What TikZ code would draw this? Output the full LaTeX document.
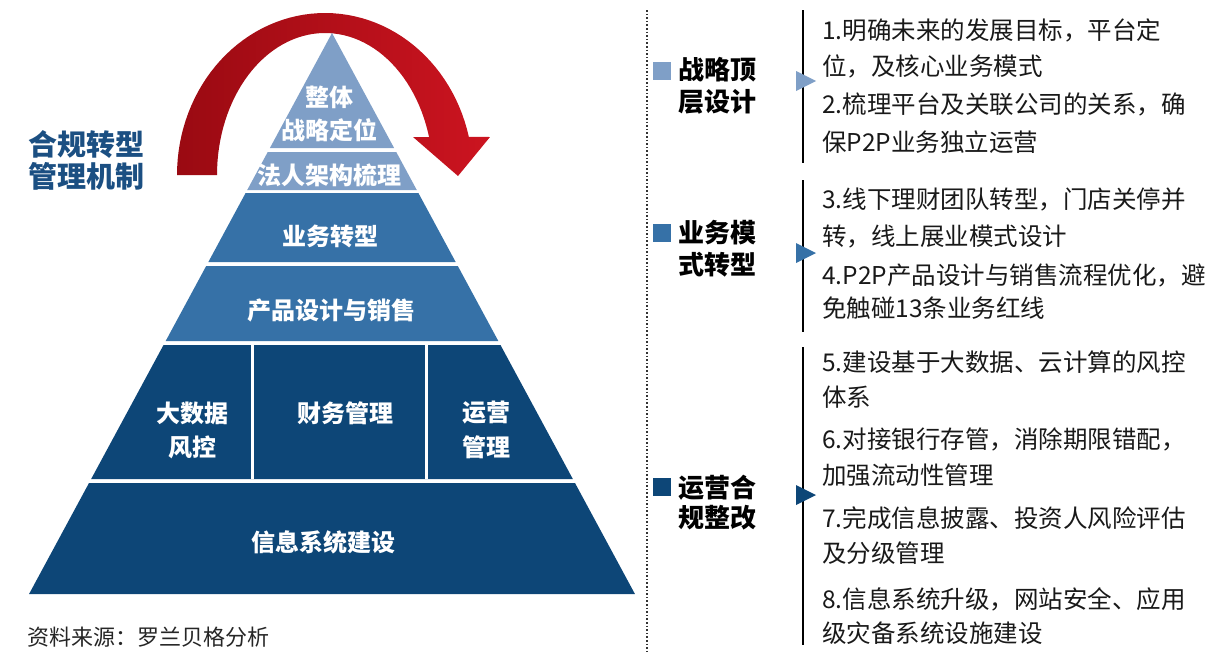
\documentclass[tikz,border=0pt]{standalone}
\usepackage{fontspec}
\setmainfont{Noto Sans CJK SC}
\definecolor{plight}{HTML}{7F9FC7}
\definecolor{pmid}{HTML}{3671A7}
\definecolor{pdark}{HTML}{0D4677}
\definecolor{titleblue}{HTML}{1B4F82}
\definecolor{redL}{HTML}{9A0A12}
\definecolor{redR}{HTML}{CC1420}
\newcommand\pband[3]{\fill[#3] ({332-0.54*(#1-33)},#1) -- ({332+0.54*(#1-33)},#1) -- ({332+0.54*(#2-33)},#2) -- ({332-0.54*(#2-33)},#2) -- cycle;}
\begin{document}
\begin{tikzpicture}[x=1pt,y=-1pt,
  ptext/.style={text=white,font=\bfseries\fontsize{24}{24}\selectfont,inner sep=0pt},
  ttext/.style={text=titleblue,font=\bfseries\fontsize{29}{29}\selectfont,inner sep=0pt},
  slabel/.style={text=black,font=\bfseries\fontsize{26}{26}\selectfont,inner sep=0pt,anchor=west},
  itext/.style={text=black!90,font=\fontsize{24.5}{24.5}\selectfont,inner sep=0pt,anchor=west},
  sq/.style={inner sep=0pt,minimum size=18pt,draw=none},
  tri/.style={draw=none}]
\useasboundingbox (0,0) rectangle (1220,662);
% red arrow
\shade[left color=redL,right color=redR]
  plot[domain=180:346.4,samples=60] ({325+148*cos(\x)},{175+162*sin(\x)})
  -- (490,137) -- (458,176) -- (413,137) -- (429,137)
  -- plot[domain=344.5:180,samples=60] ({325+108*cos(\x)},{175+142*sin(\x)}) -- cycle;
% pyramid
\fill[plight] (332,33) -- ({332+0.54*(148-33)},148) -- ({332-0.54*(148-33)},148) -- cycle;
\pband{152}{190}{plight}
\pband{193}{262}{pmid}
\pband{266}{341}{pmid}
\pband{345}{479}{pdark}
\pband{483}{594}{pdark}
\draw[white,line width=3pt] (252,345) -- (252,479);
\draw[white,line width=3pt] (426,345) -- (426,479);
% pyramid labels
\node[ptext] (p1a) at (329,97) {整体};
\node[ptext] (p1b) at (329,130) {战略定位};
\node[ptext] (p2) at (329,175) {法人架构梳理};
\node[ptext] (p3) at (330,236) {业务转型};
\node[ptext] (p4) at (331,310) {产品设计与销售};
\node[ptext] (p5a) at (192,413) {大数据};
\node[ptext] (p5b) at (192,447) {风控};
\node[ptext] (p6) at (345,413) {财务管理};
\node[ptext] (p7a) at (486,413) {运营};
\node[ptext] (p7b) at (486,447) {管理};
\node[ptext] (p8) at (323,542) {信息系统建设};
% title
\node[ttext] (t1) at (86,145) {合规转型};
\node[ttext] (t2) at (86,176) {管理机制};
% source
\node[inner sep=0pt,anchor=west,font=\fontsize{22}{22}\selectfont,text=black!85] (src) at (27,637) {资料来源：罗兰贝格分析};
% dotted separator
\draw[line width=1.6pt,dotted,black!80] (647,10) -- (647,652);
% section labels
\node[sq,fill=plight] (s1) at (662,71) {};
\node[slabel] (l1a) at (678,70) {战略顶};
\node[slabel] (l1b) at (678,102) {层设计};
\node[sq,fill=pmid] (s2) at (662,233) {};
\node[slabel] (l2a) at (678,233) {业务模};
\node[slabel] (l2b) at (678,265) {式转型};
\node[sq,fill=pdark] (s3) at (662,487) {};
\node[slabel] (l3a) at (678,488) {运营合};
\node[slabel] (l3b) at (678,518) {规整改};
% vertical bars
\coordinate (b1t) at (803,10); \coordinate (b1b) at (803,163);
\coordinate (b2t) at (803,180); \coordinate (b2b) at (803,332);
\coordinate (b3t) at (803,347); \coordinate (b3b) at (803,645);
\draw[line width=1.8pt,black] (b1t) -- (b1b);
\draw[line width=1.8pt,black] (b2t) -- (b2b);
\draw[line width=1.8pt,black] (b3t) -- (b3b);
% triangles
\fill[plight] (796,71) -- (816,81) -- (796,91) -- cycle;
\fill[pmid] (796,243) -- (816,253) -- (796,263) -- cycle;
\fill[pdark] (796,485) -- (816,495) -- (796,505) -- cycle;
% items
\node[itext] (i1a) at (822,30) {1.明确未来的发展目标，平台定};
\node[itext] (i1b) at (822,66) {位，及核心业务模式};
\node[itext] (i2a) at (822,104) {2.梳理平台及关联公司的关系，确};
\node[itext] (i2b) at (822,142) {保P2P业务独立运营};
\node[itext] (i3a) at (822,199) {3.线下理财团队转型，门店关停并};
\node[itext] (i3b) at (822,236) {转，线上展业模式设计};
\node[itext] (i4a) at (822,275) {4.P2P产品设计与销售流程优化，避};
\node[itext] (i4b) at (822,308) {免触碰13条业务红线};
\node[itext] (i5a) at (822,362) {5.建设基于大数据、云计算的风控};
\node[itext] (i5b) at (822,397) {体系};
\node[itext] (i6a) at (822,439) {6.对接银行存管，消除期限错配，};
\node[itext] (i6b) at (822,475) {加强流动性管理};
\node[itext] (i7a) at (822,518) {7.完成信息披露、投资人风险评估};
\node[itext] (i7b) at (822,553) {及分级管理};
\node[itext] (i8a) at (822,599) {8.信息系统升级，网站安全、应用};
\node[itext] (i8b) at (822,633) {级灾备系统设施建设};
\end{tikzpicture}
\end{document}
